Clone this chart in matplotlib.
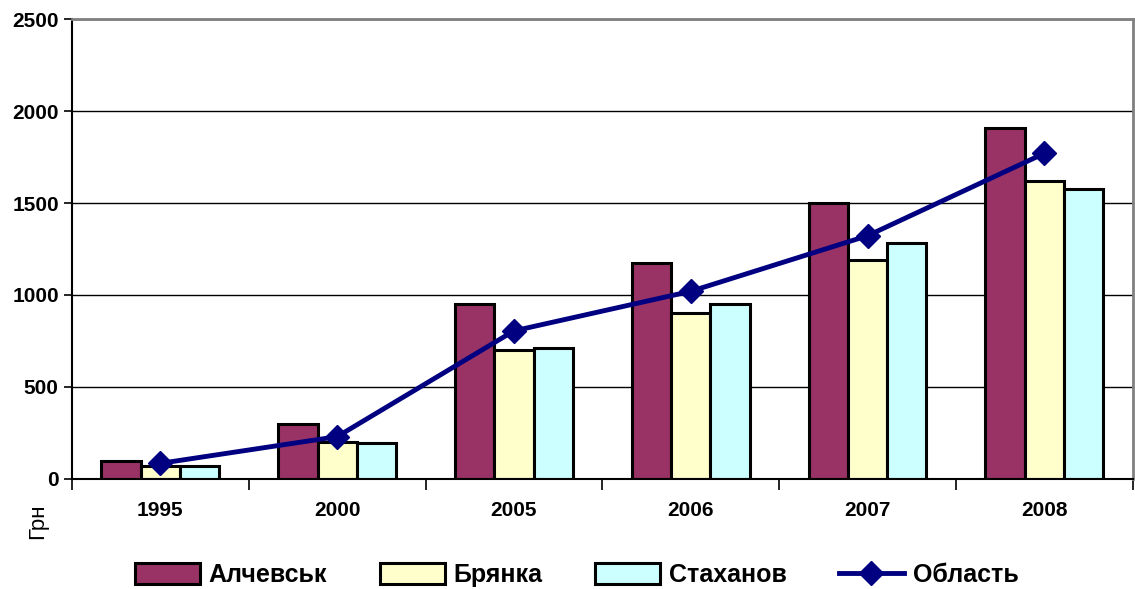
import matplotlib
matplotlib.use('Agg')
import matplotlib.pyplot as plt
import numpy as np
from matplotlib.patches import Patch
from matplotlib.lines import Line2D

plt.rcParams['font.family'] = ['Liberation Sans', 'DejaVu Sans']

# Данные
years = ['1995', '2000', '2005', '2006', '2007', '2008']
alchevsk = [95, 300, 950, 1175, 1500, 1910]
bryanka = [70, 200, 700, 900, 1190, 1620]
stakhanov = [68, 195, 710, 950, 1280, 1575]
oblast = [85, 230, 805, 1020, 1322, 1770]

series_names = ['Алчевськ', 'Брянка', 'Стаханов', 'Область']
colors = ['#993366', '#FFFFCC', '#CCFFFF']
line_color = '#000080'

fig = plt.figure(figsize=(11.35, 5.89), dpi=100)
ax = fig.add_axes([0.0634, 0.1868, 0.9346, 0.7809])

x = np.arange(len(years))
w = 0.222
for i, (vals, c) in enumerate(zip([alchevsk, bryanka, stakhanov], colors)):
    ax.bar(x + (i - 1) * w, vals, width=w, color=c, edgecolor='black',
           linewidth=2.2, zorder=2)

ax.plot(x, oblast, color=line_color, linewidth=3.5, marker='D',
        markersize=12, zorder=3)

ax.set_xlim(-0.5, len(years) - 0.5)
ax.set_ylim(0, 2500)
ax.set_yticks(np.arange(0, 2501, 500))
ax.yaxis.grid(True, color='black', linewidth=1, zorder=0)
ax.set_axisbelow(True)

# подписи по центру категорий, засечки по границам
ax.set_xticks(x)
ax.set_xticklabels(years, fontsize=15, fontweight='bold')
ax.tick_params(axis='x', which='major', length=0, pad=16)
ax.set_xticks(np.arange(-0.5, len(years) - 0.4, 1), minor=True)
ax.tick_params(axis='x', which='minor', length=8, width=1.2, color='black')
ax.tick_params(axis='y', length=6, width=1.2, labelsize=15)
for lbl in ax.get_yticklabels():
    lbl.set_fontweight('bold')

ax.spines['left'].set_linewidth(1.5)
ax.spines['bottom'].set_linewidth(1.5)
ax.spines['top'].set_color('#808080')
ax.spines['top'].set_linewidth(2)
ax.spines['right'].set_color('#808080')
ax.spines['right'].set_linewidth(2)

fig.text(38 / 1135, 1 - 521 / 589, 'Грн', rotation=90, fontsize=16,
         ha='center', va='center')

handles = [Patch(facecolor=c, edgecolor='black', linewidth=2.2) for c in colors]
handles.append(Line2D([0], [0], color=line_color, linewidth=3.5, marker='D',
                      markersize=12))
fig.legend(handles, series_names, loc='center', ncol=4,
           bbox_to_anchor=(0.508, 1 - 575 / 589), frameon=False,
           prop={'size': 18, 'weight': 'bold'}, handlelength=2.6,
           handleheight=0.9, columnspacing=2.1, handletextpad=0.35)

fig.savefig('out.png', dpi=100)
